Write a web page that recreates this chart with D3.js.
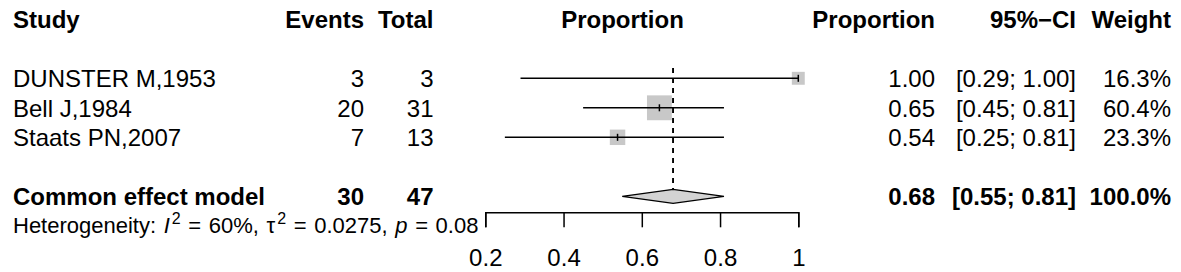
<!DOCTYPE html>
<html>
<head>
<meta charset="utf-8">
<script src="https://cdn.jsdelivr.net/npm/d3@7"></script>
<style>
  body { margin: 0; background: #fff; }
  text { font-family: "Liberation Sans", Arial, sans-serif; fill: #000; }
  .axis text { font-size: 24px; font-family: "Liberation Sans", Arial, sans-serif; }
  .axis path, .axis line { stroke: #000; stroke-width: 1.5; }
  .het { white-space: pre; word-spacing: 1.5px; }
</style>
</head>
<body>
<div id="my_dataviz"></div>
<script>
// study data
var studies = ["DUNSTER M,1953", "Bell J,1984", "Staats PN,2007"];
var events  = [3, 20, 7];
var totals  = [3, 31, 13];
var props   = [1.00, 0.645, 0.538];
var lower   = [0.29, 0.45, 0.25];
var upper   = [1.00, 0.81, 0.81];
var weights = [16.3, 60.4, 23.3];

// pooled (common effect)
var pooledEvents = 30, pooledTotal = 47;
var pooledEst = 0.68, pooledLower = 0.55, pooledUpper = 0.81;

// heterogeneity
var hetI2 = "60%", hetTau2 = "0.0275", hetP = "0.08";

var tickVals = [0.2, 0.4, 0.6, 0.8, 1];

var width = 1181, height = 272;

var svg = d3.select("#my_dataviz")
  .append("svg")
  .attr("width", width)
  .attr("height", height);

// x scale for the forest part
var x = d3.scaleLinear().domain([0.2, 1]).range([485.3, 798.3]);
// row scale (row 0 = header)
var row = d3.scaleLinear().domain([0, 7]).range([19.3, 19.3 + 7 * 29.5]);
var base = 9; // text baseline offset from row centre

var fmt2 = d3.format(".2f");
var fmtW = function(w){ return d3.format(".1f")(w) + "%"; };

// column positions
var col = { study: 13, events: 364, total: 433.5, plotHead: 622.5, prop: 935, ci: 1076, weight: 1171 };

// header
var header = [
  {t: "Study", x: col.study, a: "start"},
  {t: "Events", x: col.events, a: "end"},
  {t: "Total", x: col.total, a: "end"},
  {t: "Proportion", x: col.plotHead, a: "middle"},
  {t: "Proportion", x: col.prop, a: "end"},
  {t: "95%\u2212CI", x: col.ci, a: "end"},
  {t: "Weight", x: col.weight, a: "end"}
];
svg.selectAll("text.head")
  .data(header)
  .enter()
  .append("text")
  .attr("class", "head")
  .attr("x", d => d.x)
  .attr("y", row(0) + base)
  .attr("text-anchor", d => d.a)
  .style("font-size", "24px")
  .style("font-weight", "bold")
  .text(d => d.t);

// study rows text
var rows = studies.map(function(s, i){
  return {
    i: i, study: s, ev: events[i], n: totals[i], est: props[i],
    lo: lower[i], hi: upper[i], w: weights[i]
  };
});

var rowText = svg.selectAll("g.rowtext")
  .data(rows)
  .enter()
  .append("g")
  .attr("class", "rowtext")
  .attr("transform", d => "translate(0," + (row(d.i + 2) + base) + ")")
  .style("font-size", "24px");

rowText.append("text").attr("x", col.study).text(d => d.study);
rowText.append("text").attr("x", col.events).attr("text-anchor", "end").text(d => d.ev);
rowText.append("text").attr("x", col.total).attr("text-anchor", "end").text(d => d.n);
rowText.append("text").attr("x", col.prop).attr("text-anchor", "end").text(d => fmt2(d.est));
rowText.append("text").attr("x", col.ci).attr("text-anchor", "end")
  .text(d => "[" + fmt2(d.lo) + "; " + fmt2(d.hi) + "]");
rowText.append("text").attr("x", col.weight).attr("text-anchor", "end").text(d => fmtW(d.w));

// pooled row text
var pooledY = row(6) + base;
var pooledRow = svg.append("g")
  .attr("transform", "translate(0," + pooledY + ")")
  .style("font-size", "24px")
  .style("font-weight", "bold");
pooledRow.append("text").attr("x", col.study).text("Common effect model");
pooledRow.append("text").attr("x", col.events).attr("text-anchor", "end").text(pooledEvents);
pooledRow.append("text").attr("x", col.total).attr("text-anchor", "end").text(pooledTotal);
pooledRow.append("text").attr("x", col.prop).attr("text-anchor", "end").text(fmt2(pooledEst));
pooledRow.append("text").attr("x", col.ci).attr("text-anchor", "end")
  .text("[" + fmt2(pooledLower) + "; " + fmt2(pooledUpper) + "]");
pooledRow.append("text").attr("x", col.weight).attr("text-anchor", "end").text("100.0%");

// heterogeneity line
var het = svg.append("text")
  .attr("class", "het")
  .attr("x", col.study)
  .attr("y", row(7) + base - 1.5)
  .style("font-size", "22px");
var hetParts = [
  {t: "Heterogeneity: ", dy: 0},
  {t: "I", dy: 0, it: true},
  {t: "2", dy: -9, sup: true},
  {t: " = " + hetI2 + ", \u03c4", dy: 9},
  {t: "2", dy: -9, sup: true},
  {t: " = " + hetTau2 + ", ", dy: 9},
  {t: "p", dy: 0, it: true},
  {t: " = " + hetP, dy: 0}
];
het.selectAll("tspan")
  .data(hetParts)
  .enter()
  .append("tspan")
  .attr("dx", d => d.sup ? 2 : 0)
  .attr("dy", d => d.dy)
  .style("font-style", d => d.it ? "italic" : null)
  .style("font-size", d => d.sup ? "16px" : null)
  .text(d => d.t);

// reference (pooled) dashed line
var refLine = function(){
  svg.append("line")
    .attr("x1", x(pooledEst)).attr("x2", x(pooledEst))
    .attr("y1", 68).attr("y2", row(6) - 7)
    .attr("stroke", "#000")
    .attr("stroke-width", 1.6)
    .attr("stroke-dasharray", "5,5");
};
refLine();

// weight squares
var boxSize = d => 3.2 * Math.sqrt(d.w);
svg.selectAll("rect.box")
  .data(rows)
  .enter()
  .append("rect")
  .attr("class", "box")
  .attr("x", d => x(d.est) - boxSize(d) / 2)
  .attr("y", d => row(d.i + 2) - boxSize(d) / 2)
  .attr("width", boxSize)
  .attr("height", boxSize)
  .style("fill", "#c8c8c8");

// confidence interval lines
svg.selectAll("line.ci")
  .data(rows)
  .enter()
  .append("line")
  .attr("class", "ci")
  .attr("x1", d => x(d.lo)).attr("x2", d => x(d.hi))
  .attr("y1", d => row(d.i + 2)).attr("y2", d => row(d.i + 2))
  .attr("stroke", "#000")
  .attr("stroke-width", 1.5);

// point estimate ticks
svg.selectAll("line.est")
  .data(rows)
  .enter()
  .append("line")
  .attr("class", "est")
  .attr("x1", d => x(d.est)).attr("x2", d => x(d.est))
  .attr("y1", d => row(d.i + 2) - 3.5).attr("y2", d => row(d.i + 2) + 3.5)
  .attr("stroke", "#000")
  .attr("stroke-width", 1.5);

// dashed line again so it shows over the squares
refLine();

// pooled diamond
var dy = row(6);
svg.append("path")
  .attr("d", "M" + x(pooledLower) + "," + dy +
             "L" + x(pooledEst) + "," + (dy - 7) +
             "L" + x(pooledUpper) + "," + dy +
             "L" + x(pooledEst) + "," + (dy + 7) + "Z")
  .style("fill", "#d3d3d3")
  .attr("stroke", "#000")
  .attr("stroke-width", 1.3);

// x axis
var xAxis = d3.axisBottom(x)
  .tickValues(tickVals)
  .tickSize(15)
  .tickPadding(22)
  .tickFormat(d3.format("~g"));

svg.append("g")
  .attr("class", "axis")
  .attr("transform", "translate(0,212.3)")
  .call(xAxis);
</script>
</body>
</html>
